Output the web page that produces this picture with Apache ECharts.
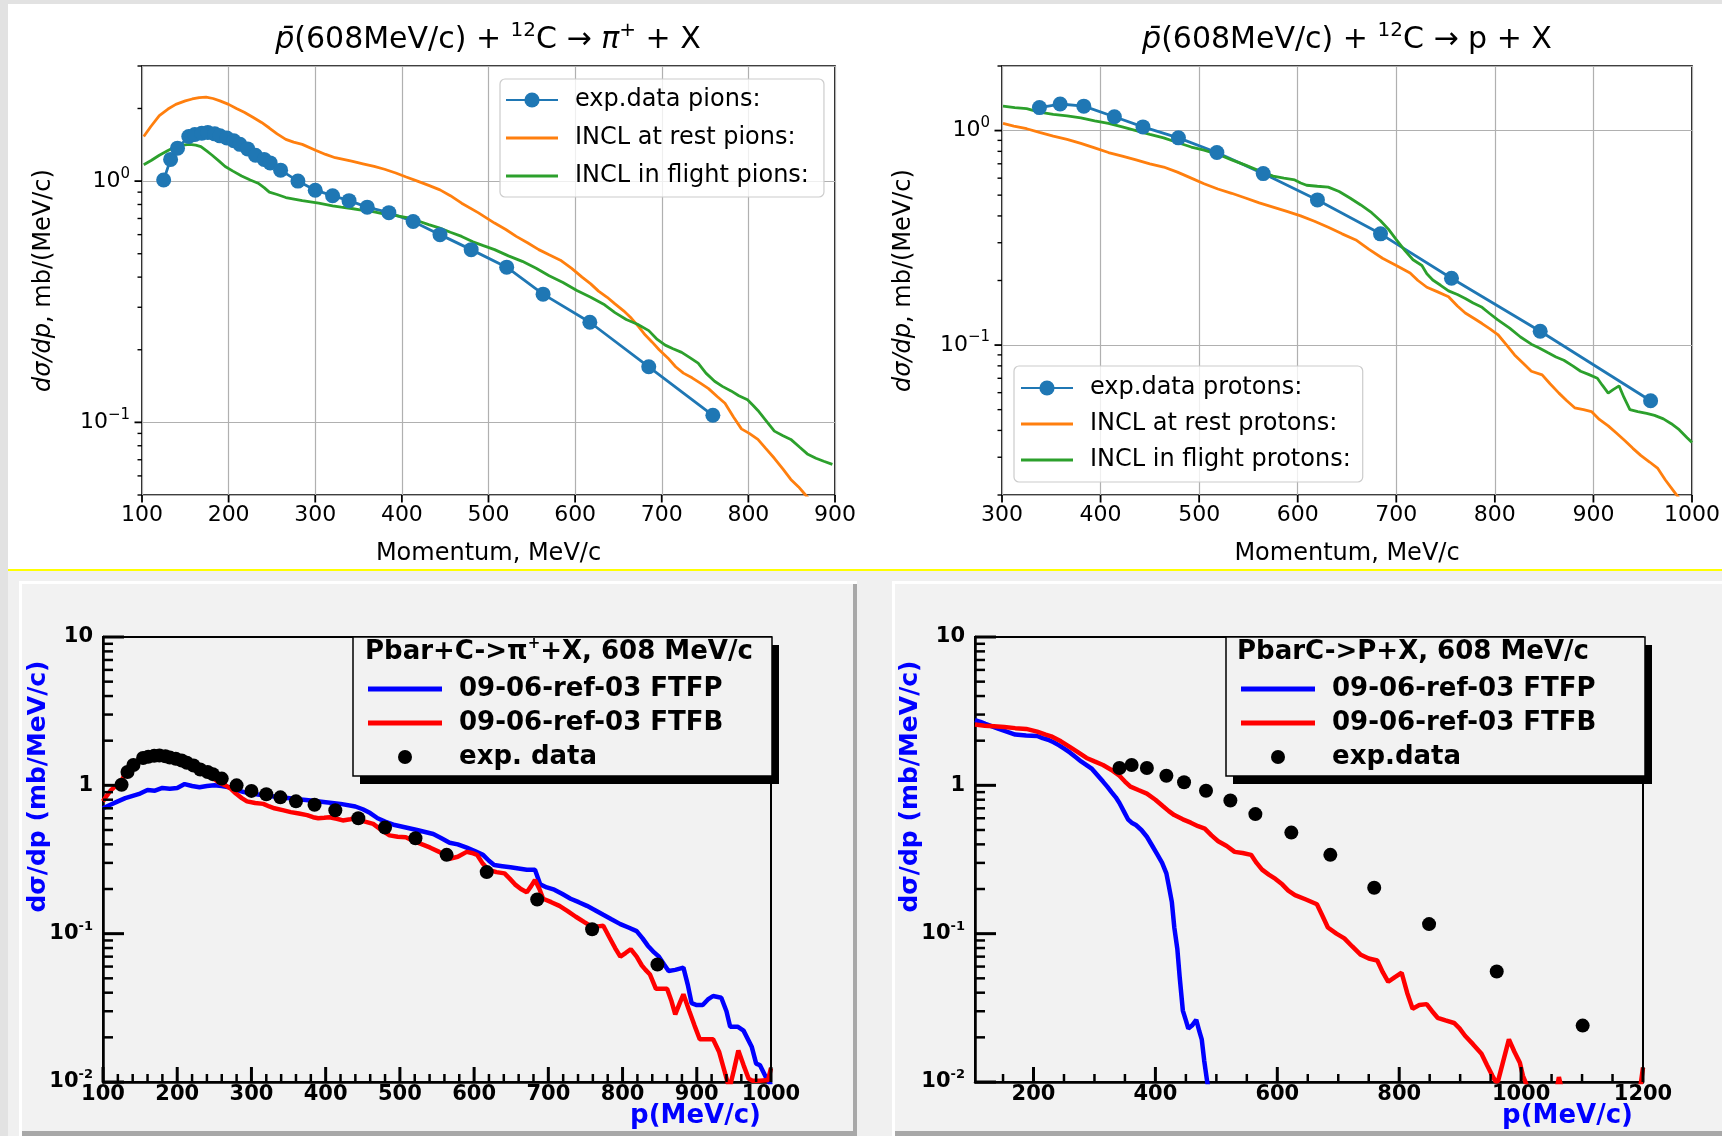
<!DOCTYPE html>
<html>
<head>
<meta charset="utf-8">
<script src="https://cdn.jsdelivr.net/npm/echarts@6/dist/echarts.min.js"></script>
<style>
  html, body { margin: 0; padding: 0; background: #ffffff; }
  #chart { width: 1722px; height: 1136px; }
</style>
</head>
<body>
<div id="chart"></div>
<script>
// ---------------- data: momentum (MeV/c), dσ/dp (mb/(MeV/c)) ----------------

// pbar + 12C -> pi+ + X  (INCL comparison)
const piExp = [[125,1.01],[133,1.23],[141,1.37],[154,1.53],[161,1.56],[169,1.58],[176,1.59],[184,1.57],[190,1.54],[198,1.51],[206,1.47],[213,1.42],[222,1.36],[231,1.28],[241,1.23],[248,1.19],[260,1.11],[280,1.00],[300,0.917],[320,0.87],[339,0.83],[360,0.78],[385,0.74],[413,0.68],[444,0.60],[480,0.52],[521,0.44],[563,0.34],[617,0.26],[685,0.17],[759,0.107]];
const piInclRest = [[102,1.53],[110,1.68],[120,1.87],[130,1.99],[139,2.08],[150,2.15],[158,2.19],[166,2.22],[174,2.23],[182,2.20],[190,2.15],[200,2.08],[209,2.00],[218,1.93],[228,1.84],[238,1.75],[247,1.66],[256,1.57],[266,1.49],[275,1.45],[285,1.42],[301,1.34],[312,1.29],[323,1.25],[342,1.21],[355,1.18],[368,1.15],[380,1.12],[393,1.08],[405,1.04],[418,1.00],[431,0.96],[444,0.92],[456,0.87],[469,0.81],[488,0.74],[507,0.67],[520,0.63],[532,0.59],[545,0.555],[558,0.52],[570,0.495],[583,0.47],[596,0.435],[608,0.40],[618,0.375],[627,0.35],[637,0.33],[646,0.31],[656,0.29],[665,0.27],[673,0.25],[681,0.23],[689,0.215],[697,0.20],[707,0.185],[716,0.17],[725,0.16],[735,0.153],[745,0.145],[754,0.138],[764,0.128],[773,0.12],[783,0.105],[792,0.094],[801,0.090],[811,0.085],[820,0.078],[830,0.071],[840,0.064],[849,0.058],[858,0.054],[866,0.050],[875,0.046]];
const piInclFlight = [[102,1.17],[111,1.22],[120,1.28],[130,1.34],[139,1.39],[147,1.41],[155,1.42],[162,1.41],[168,1.39],[175,1.33],[181,1.28],[189,1.21],[196,1.15],[205,1.10],[215,1.05],[225,1.01],[234,0.98],[241,0.94],[247,0.90],[256,0.88],[266,0.855],[285,0.83],[304,0.81],[320,0.79],[330,0.78],[342,0.77],[355,0.757],[368,0.745],[380,0.73],[393,0.72],[406,0.706],[418,0.685],[431,0.66],[443,0.64],[456,0.614],[469,0.59],[482,0.56],[494,0.54],[507,0.52],[523,0.49],[539,0.465],[555,0.435],[570,0.405],[586,0.38],[602,0.352],[618,0.33],[634,0.307],[646,0.285],[659,0.267],[672,0.255],[685,0.24],[694,0.222],[704,0.209],[713,0.202],[723,0.195],[732,0.186],[742,0.176],[751,0.16],[761,0.148],[770,0.141],[780,0.135],[789,0.129],[799,0.124],[805,0.118],[811,0.112],[821,0.101],[830,0.092],[840,0.088],[849,0.085],[859,0.079],[868,0.074],[878,0.071],[887,0.069],[897,0.067]];

// pbar + 12C -> p + X  (INCL comparison)
const prExp = [[338,1.28],[359,1.33],[383,1.30],[414,1.16],[443,1.04],[479,0.925],[518,0.79],[565,0.63],[620,0.475],[684,0.33],[756,0.205],[846,0.116],[958,0.055]];
const prInclRest = [[301,1.08],[312,1.05],[325,1.02],[338,0.98],[352,0.943],[366,0.91],[380,0.872],[394,0.83],[408,0.79],[422,0.76],[436,0.73],[450,0.70],[464,0.676],[478,0.64],[492,0.60],[505,0.565],[519,0.534],[533,0.51],[547,0.485],[561,0.46],[575,0.44],[589,0.42],[603,0.40],[617,0.378],[631,0.354],[645,0.33],[659,0.309],[672,0.28],[686,0.254],[700,0.235],[714,0.217],[722,0.20],[731,0.186],[742,0.177],[753,0.168],[762,0.152],[770,0.141],[779,0.133],[787,0.126],[795,0.119],[803,0.112],[812,0.10],[820,0.09],[829,0.082],[837,0.0755],[848,0.0726],[856,0.066],[865,0.0597],[873,0.055],[881,0.051],[890,0.05],[898,0.049],[906,0.045],[915,0.042],[923,0.039],[932,0.0358],[940,0.033],[948,0.0306],[957,0.0285],[965,0.0267],[973,0.0235],[982,0.0207],[990,0.0185]];
const prInclFlight = [[301,1.30],[313,1.28],[325,1.265],[338,1.22],[352,1.19],[366,1.17],[380,1.147],[394,1.11],[408,1.08],[422,1.04],[436,1.0],[450,0.96],[464,0.925],[478,0.88],[492,0.838],[505,0.81],[519,0.775],[533,0.73],[547,0.69],[561,0.65],[575,0.613],[586,0.60],[597,0.589],[603,0.57],[609,0.556],[620,0.55],[631,0.545],[642,0.52],[653,0.485],[664,0.45],[675,0.414],[684,0.38],[692,0.347],[700,0.31],[709,0.275],[717,0.25],[726,0.235],[731,0.215],[737,0.201],[745,0.19],[753,0.179],[762,0.172],[770,0.165],[778,0.157],[787,0.150],[795,0.14],[803,0.131],[815,0.12],[826,0.109],[837,0.101],[845,0.097],[854,0.092],[862,0.088],[870,0.085],[879,0.08],[887,0.0755],[895,0.073],[904,0.070],[909,0.065],[915,0.0597],[920,0.062],[926,0.0645],[931,0.057],[937,0.050],[945,0.049],[954,0.048],[962,0.047],[971,0.0453],[979,0.043],[987,0.0403],[995,0.037],[1000,0.0351]];

// Pbar+C -> pi+ + X, 608 MeV/c  (Geant4 FTF comparison)
const piFtfp = [[100,0.70],[110,0.74],[120,0.78],[130,0.82],[140,0.85],[150,0.88],[160,0.93],[170,0.92],[180,0.96],[190,0.95],[200,0.96],[210,1.02],[220,0.99],[230,0.97],[240,0.99],[250,1.00],[260,0.99],[270,0.97],[280,0.93],[290,0.90],[300,0.88],[320,0.85],[340,0.83],[360,0.81],[380,0.79],[400,0.77],[420,0.75],[440,0.72],[450,0.69],[460,0.65],[470,0.60],[480,0.57],[493,0.54],[508,0.52],[523,0.50],[545,0.47],[556,0.44],[567,0.41],[578,0.40],[590,0.38],[601,0.36],[612,0.34],[620,0.31],[627,0.29],[638,0.285],[649,0.28],[660,0.275],[671,0.27],[682,0.27],[689,0.215],[698,0.205],[708,0.198],[719,0.185],[730,0.172],[741,0.163],[752,0.154],[763,0.144],[774,0.134],[785,0.125],[797,0.116],[808,0.11],[819,0.104],[827,0.093],[834,0.083],[841,0.076],[849,0.070],[856,0.062],[862,0.056],[871,0.057],[882,0.059],[888,0.045],[893,0.034],[900,0.033],[908,0.033],[915,0.036],[922,0.038],[933,0.037],[940,0.030],[945,0.0236],[955,0.0236],[963,0.0222],[974,0.0173],[980,0.0133],[985,0.013],[993,0.0108],[1000,0.0095]];
const piFtfb = [[100,0.78],[105,0.85],[110,0.92],[115,0.97],[122,1.01],[130,1.2],[138,1.37],[150,1.50],[160,1.58],[170,1.60],[180,1.58],[190,1.52],[200,1.46],[210,1.40],[220,1.34],[230,1.26],[240,1.18],[250,1.10],[257,1.04],[265,1.0],[272,0.95],[279,0.88],[287,0.82],[294,0.78],[305,0.76],[316,0.75],[324,0.72],[331,0.70],[342,0.68],[353,0.66],[364,0.645],[375,0.63],[383,0.61],[390,0.60],[398,0.605],[405,0.61],[415,0.595],[423,0.58],[433,0.59],[442,0.60],[453,0.57],[464,0.55],[475,0.50],[486,0.46],[497,0.45],[508,0.447],[519,0.42],[530,0.40],[541,0.38],[553,0.356],[560,0.34],[567,0.32],[578,0.33],[590,0.356],[597,0.35],[604,0.34],[611,0.30],[619,0.27],[630,0.26],[641,0.255],[648,0.235],[655,0.215],[663,0.20],[671,0.19],[677,0.21],[682,0.23],[688,0.20],[693,0.172],[704,0.163],[715,0.154],[726,0.142],[737,0.13],[748,0.12],[760,0.11],[767,0.112],[774,0.113],[782,0.095],[790,0.08],[797,0.07],[804,0.074],[811,0.0786],[819,0.07],[826,0.061],[831,0.057],[837,0.053],[845,0.0425],[852,0.0425],[860,0.0425],[866,0.035],[871,0.0286],[877,0.034],[882,0.039],[890,0.03],[897,0.024],[904,0.0194],[913,0.0194],[922,0.0194],[930,0.016],[937,0.012],[944,0.009],[950,0.012],[956,0.0163],[963,0.013],[970,0.0105],[975,0.0102],[985,0.0102],[996,0.0103],[1000,0.0124]];
const piExpData = [[125,1.01],[133,1.23],[141,1.37],[154,1.53],[161,1.56],[169,1.58],[176,1.59],[184,1.57],[190,1.54],[198,1.51],[206,1.47],[213,1.42],[222,1.36],[231,1.28],[241,1.23],[248,1.19],[260,1.11],[280,1.00],[300,0.917],[320,0.87],[339,0.83],[360,0.78],[385,0.74],[413,0.68],[444,0.60],[480,0.52],[521,0.44],[563,0.34],[617,0.26],[685,0.17],[759,0.107],[847,0.062]];

// PbarC -> P + X, 608 MeV/c  (Geant4 FTF comparison)
const prFtfp = [[104,2.75],[113,2.68],[121,2.6],[132,2.5],[143,2.4],[156,2.3],[170,2.2],[188,2.17],[206,2.15],[215,2.08],[224,2.03],[233,1.95],[242,1.86],[251,1.76],[260,1.66],[269,1.55],[278,1.45],[287,1.37],[296,1.29],[305,1.17],[314,1.06],[321,0.98],[328,0.90],[335,0.83],[341,0.76],[348,0.67],[355,0.59],[361,0.56],[368,0.54],[377,0.50],[386,0.45],[395,0.39],[404,0.337],[411,0.30],[418,0.255],[422,0.21],[427,0.163],[431,0.11],[436,0.0786],[440,0.05],[445,0.0303],[450,0.026],[454,0.0229],[460,0.024],[467,0.0263],[472,0.022],[476,0.0194],[480,0.014],[485,0.01],[490,0.008]];
const prFtfb = [[104,2.57],[120,2.52],[135,2.5],[152,2.47],[170,2.43],[188,2.40],[206,2.30],[220,2.2],[229,2.14],[245,1.98],[260,1.81],[274,1.66],[287,1.53],[300,1.45],[314,1.37],[328,1.27],[341,1.16],[350,1.06],[359,0.98],[372,0.93],[386,0.88],[400,0.80],[413,0.72],[422,0.67],[431,0.63],[445,0.59],[458,0.56],[470,0.53],[481,0.51],[492,0.46],[503,0.42],[517,0.39],[530,0.356],[543,0.35],[557,0.34],[566,0.30],[575,0.27],[586,0.25],[597,0.234],[608,0.215],[618,0.195],[629,0.182],[647,0.17],[665,0.158],[674,0.132],[683,0.11],[697,0.10],[710,0.093],[723,0.082],[737,0.072],[750,0.068],[764,0.066],[773,0.055],[782,0.0474],[793,0.051],[804,0.0545],[813,0.04],[822,0.0312],[833,0.033],[845,0.0335],[854,0.030],[863,0.0271],[876,0.026],[890,0.025],[899,0.023],[908,0.0205],[921,0.018],[935,0.0155],[944,0.013],[953,0.011],[958,0.0101],[962,0.0101],[971,0.014],[980,0.0194],[989,0.016],[998,0.0135],[1003,0.011],[1008,0.0098],[1015,0.008],[1055,0.008],[1059,0.0092],[1062,0.0108],[1066,0.0092],[1070,0.008],[1190,0.008],[1196,0.0095],[1200,0.0125]];
const prExpData = [[341,1.31],[361,1.37],[386,1.31],[418,1.16],[447,1.05],[483,0.92],[523,0.79],[564,0.64],[623,0.48],[687,0.34],[759,0.204],[849,0.116],[960,0.0556],[1101,0.024]];

// axis ranges and tick positions
const tlXTicks = [100, 200, 300, 400, 500, 600, 700, 800, 900];
const trXTicks = [300, 400, 500, 600, 700, 800, 900, 1000];
const tlYTicks = [0.1, 1];
const trYTicks = [0.1, 1];
const blXTicks = [100, 200, 300, 400, 500, 600, 700, 800, 900, 1000];
const blXMinor = [120, 140, 160, 180, 220, 240, 260, 280, 320, 340, 360, 380, 420, 440, 460, 480, 520, 540, 560, 580, 620, 640, 660, 680, 720, 740, 760, 780, 820, 840, 860, 880, 920, 940, 960, 980];
const brXTicks = [200, 400, 600, 800, 1000, 1200];
const brXMinor = [150, 250, 300, 350, 450, 500, 550, 650, 700, 750, 850, 900, 950, 1050, 1100, 1150];
const rootYTicks = [0.01, 0.1, 1, 10];

// ---------------- styling helpers ----------------
const F = 'DejaVu Sans';
const MPL_BLUE = '#1f77b4', MPL_ORANGE = '#ff7f0e', MPL_GREEN = '#2ca02c';

// minor decade ticks 2..9 x 10^k inside [min, max]
function logMinor(min, max) {
  const out = [];
  for (let e = -3; e <= 2; e++) {
    for (let m = 2; m <= 9; m++) {
      const v = +(m * Math.pow(10, e)).toPrecision(3);
      if (v >= min * 0.999 && v <= max * 1.001) out.push(v);
    }
  }
  return out;
}

function mplPow(v) {
  const e = Math.round(Math.log10(v));
  return '{b|10}{s|' + (e < 0 ? '\u2212' + (-e) : String(e)) + '}';
}
function rootPow(v) {
  if (v >= 1) return String(Math.round(v));
  const e = Math.round(Math.log10(v));
  return '{b|10}{s|' + e + '}';
}
const plain = v => String(v);

function mplX(grid, min, max) {
  return {
    type: 'value', gridIndex: grid, min: min, max: max, interval: 100, position: 'bottom',
    axisLine: { show: false },
    axisTick: { show: false },
    axisLabel: { color: '#000', fontFamily: F, fontSize: 22, margin: 9, formatter: plain, showMinLabel: true, showMaxLabel: true },
    splitLine: { show: true, lineStyle: { color: '#b0b0b0', width: 1.2 } },
    name: 'Momentum, MeV/c', nameLocation: 'middle', nameGap: 47, nameMoveOverlap: false,
    nameTextStyle: { color: '#000', fontFamily: F, fontSize: 24 }
  };
}

function mplY(grid, min, max, majors) {
  return {
    type: 'log', logBase: 10, gridIndex: grid, min: min, max: max, position: 'left',
    axisLine: { show: false },
    axisTick: { show: false },
    axisLabel: {
      customValues: majors, margin: 12, color: '#000', fontFamily: F, fontSize: 22, formatter: mplPow,
      rich: {
        b: { fontFamily: F, fontSize: 22, color: '#000', lineHeight: 30 },
        s: { fontFamily: F, fontSize: 15, color: '#000', verticalAlign: 'top', lineHeight: 15 }
      }
    },
    splitLine: { show: true, lineStyle: { color: '#b0b0b0', width: 1.2 } },
    name: '{i|d\u03c3/dp}, mb/(MeV/c)', nameLocation: 'middle', nameGap: 86, nameMoveOverlap: false,
    nameTextStyle: {
      color: '#000', fontFamily: F, fontSize: 24,
      rich: { i: { fontFamily: F, fontSize: 24, fontStyle: 'italic', color: '#000' } }
    }
  };
}

function rootX(grid, min, max, labels) {
  return {
    type: 'value', gridIndex: grid, min: min, max: max, position: 'bottom',
    axisLine: { show: true, lineStyle: { color: '#000', width: 2.5 } },
    axisTick: { show: false },
    axisLabel: { customValues: labels, color: '#000', fontFamily: F, fontWeight: 'bold', fontSize: 21, margin: 2, formatter: plain },
    splitLine: { show: false },
    name: 'p(MeV/c)', nameLocation: 'end', nameGap: -10, nameMoveOverlap: false,
    nameTextStyle: { color: '#0000ff', fontFamily: F, fontWeight: 'bold', fontSize: 26, align: 'right', verticalAlign: 'top', padding: [21, 0, 0, 0] }
  };
}
function rootY(grid) {
  return {
    type: 'log', logBase: 10, gridIndex: grid, min: 0.01, max: 10, position: 'left',
    axisLine: { show: true, lineStyle: { color: '#000', width: 2.5 } },
    axisTick: { show: false },
    axisLabel: {
      customValues: rootYTicks, margin: 10, color: '#000', fontFamily: F, fontWeight: 'bold', fontSize: 21, formatter: rootPow,
      rich: {
        b: { fontFamily: F, fontWeight: 'bold', fontSize: 21, color: '#000', lineHeight: 28 },
        s: { fontFamily: F, fontWeight: 'bold', fontSize: 13, color: '#000', verticalAlign: 'top', lineHeight: 13 }
      }
    },
    splitLine: { show: false },
    name: 'd\u03c3/dp (mb/MeV/c)', nameLocation: 'middle', nameGap: 52, nameMoveOverlap: false,
    nameTextStyle: { color: '#0000ff', fontFamily: F, fontWeight: 'bold', fontSize: 25, padding: [0, 0, 0, 146] }
  };
}

// tick marks drawn on the frame edge through the axis scales
// dir: 'x' ticks on the bottom edge, 'y' ticks on the left edge; inward points into the plot
function ticks(xi, yi, dir, values, anchor, len, width, inward) {
  const data = values.map(v => dir === 'x' ? [v, anchor] : [anchor, v]);
  return {
    type: 'custom', xAxisIndex: xi, yAxisIndex: yi, data: data, clip: false, silent: true, z: 10,
    renderItem: function (params, api) {
      const cs = params.coordSys;
      const p = api.coord([api.value(0), api.value(1)]);
      const s = inward ? 1 : -1;
      if (dir === 'x') {
        const y0 = cs.y + cs.height;
        return { type: 'line', shape: { x1: p[0], y1: y0, x2: p[0], y2: y0 - s * len }, style: { stroke: '#000', lineWidth: width } };
      }
      const x0 = cs.x;
      return { type: 'line', shape: { x1: x0, y1: p[1], x2: x0 + s * len, y2: p[1] }, style: { stroke: '#000', lineWidth: width } };
    }
  };
}

function mplLine(name, data, color, x, y) {
  return { type: 'line', name: name, data: data, xAxisIndex: x, yAxisIndex: y, symbol: 'none',
           lineStyle: { color: color, width: 2.8 }, itemStyle: { color: color }, clip: true, z: 3 };
}
function mplExp(name, data, x, y) {
  return { type: 'line', name: name, data: data, xAxisIndex: x, yAxisIndex: y, symbol: 'circle', symbolSize: 15,
           lineStyle: { color: MPL_BLUE, width: 2.8 }, itemStyle: { color: MPL_BLUE, opacity: 1 }, clip: true, z: 3 };
}
function rootLine(name, data, color, x, y) {
  return { type: 'line', name: name, data: data, xAxisIndex: x, yAxisIndex: y, symbol: 'none',
           lineStyle: { color: color, width: 4.5 }, itemStyle: { color: color }, clip: true, z: 3 };
}
function rootExp(name, data, x, y) {
  return { type: 'scatter', name: name, data: data, xAxisIndex: x, yAxisIndex: y, symbol: 'circle', symbolSize: 14,
           itemStyle: { color: '#000', opacity: 1 }, clip: true, z: 3 };
}

const lineIcon = (w, h) => 'path://M0,0H' + w + 'V' + h + 'H0Z';

function mplLegend(left, top, names, pad, gap) {
  return {
    left: left, top: top, orient: 'vertical', padding: pad, itemWidth: 52, itemHeight: 19, itemGap: gap,
    backgroundColor: 'rgba(255,255,255,0.8)', borderColor: '#cccccc', borderWidth: 1.2, borderRadius: 5,
    selectedMode: false,
    textStyle: { fontFamily: F, fontSize: 24, color: '#000', lineHeight: 28, padding: [0, 0, 0, 12] },
    data: [ { name: names[0] },
            { name: names[1], icon: lineIcon(52, 3) },
            { name: names[2], icon: lineIcon(52, 3) } ]
  };
}
function rootLegend(left, top, names) {
  return {
    left: left, top: top, orient: 'vertical', padding: 0, itemWidth: 74, itemHeight: 14, itemGap: 4,
    selectedMode: false, z: 12,
    textStyle: { fontFamily: F, fontWeight: 'bold', fontSize: 26, color: '#000', lineHeight: 30, padding: [0, 0, 0, 12] },
    data: [ { name: names[0], icon: lineIcon(74, 5) },
            { name: names[1], icon: lineIcon(74, 5) },
            { name: names[2] } ]
  };
}

// ---------------- page furniture (panel backgrounds, ROOT legend boxes) ----------------
const rect = (x, y, w, h, fill, z, extra) => Object.assign({ type: 'rect', shape: { x: x, y: y, width: w, height: h }, style: { fill: fill }, z: z, silent: true }, extra || {});

const furniture = [
  rect(0, 0, 1722, 1136, '#e2e2e2', -20),
  rect(8, 4, 1714, 565, '#ffffff', -19),
  rect(8, 569, 1714, 2, '#ffff00', -19),
  rect(8, 571, 1714, 565, '#f0f0f0', -19),
  // lower-left canvas with bevelled edge
  rect(19, 581, 838, 555, '#ffffff', -18),
  rect(22, 584, 835, 552, '#a8a8a8', -17),
  rect(22, 584, 831, 547, '#f2f2f2', -16),
  // lower-right canvas
  rect(892, 581, 830, 555, '#ffffff', -18),
  rect(895, 584, 827, 552, '#a8a8a8', -17),
  rect(895, 584, 827, 547, '#f2f2f2', -16),
  // legend boxes with drop shadow
  rect(360, 645, 419, 139, '#000000', 10),
  rect(353, 637, 419, 139, '#f2f2f2', 11, { style: { fill: '#f2f2f2', stroke: '#000', lineWidth: 1.5 } }),
  rect(1233, 645, 419, 139, '#000000', 10),
  rect(1226, 637, 419, 139, '#f2f2f2', 11, { style: { fill: '#f2f2f2', stroke: '#000', lineWidth: 1.5 } }),
  { type: 'text', x: 365, y: 652, z: 13, silent: true,
    style: { text: 'Pbar+C->\u03c0{s|+}+X, 608 MeV/c', fill: '#000', fontFamily: F, fontWeight: 'bold', fontSize: 26,
             lineHeight: 30, verticalAlign: 'middle',
             rich: { s: { fontFamily: F, fontWeight: 'bold', fontSize: 15, verticalAlign: 'top', lineHeight: 15, fill: '#000' } } } },
  { type: 'text', x: 1237, y: 652, z: 13, silent: true,
    style: { text: 'PbarC->P+X, 608 MeV/c', fill: '#000', fontFamily: F, fontWeight: 'bold', fontSize: 26,
             lineHeight: 30, verticalAlign: 'middle' } }
];

const titleRich = {
  i: { fontFamily: F, fontSize: 30, fontStyle: 'italic', color: '#000', lineHeight: 38 },
  s: { fontFamily: F, fontSize: 20, color: '#000', verticalAlign: 'top', lineHeight: 20 }
};

const option = {
  animation: false,
  backgroundColor: 'transparent',
  textStyle: { fontFamily: F },
  graphic: { elements: furniture },
  title: [
    { text: '{i|p\u0304}(608MeV/c) + {s|12}C \u2192 {i|\u03c0}{s|+} + X', left: 488, top: 40, padding: 0,
      textAlign: 'center', textVerticalAlign: 'middle',
      textStyle: { fontFamily: F, fontSize: 30, fontWeight: 'normal', color: '#000', lineHeight: 38, rich: titleRich } },
    { text: '{i|p\u0304}(608MeV/c) + {s|12}C \u2192 p + X', left: 1347, top: 40, padding: 0,
      textAlign: 'center', textVerticalAlign: 'middle',
      textStyle: { fontFamily: F, fontSize: 30, fontWeight: 'normal', color: '#000', lineHeight: 38, rich: titleRich } }
  ],
  grid: [
    { left: 142, top: 66, width: 693, height: 429, show: true, borderColor: '#000', borderWidth: 1.7, backgroundColor: 'transparent', outerBoundsMode: 'none', containLabel: false },
    { left: 1002, top: 66, width: 690, height: 429, show: true, borderColor: '#000', borderWidth: 1.7, backgroundColor: 'transparent', outerBoundsMode: 'none', containLabel: false },
    { left: 103, top: 637, width: 668, height: 445, show: true, borderColor: '#000', borderWidth: 2, backgroundColor: 'transparent', outerBoundsMode: 'none', containLabel: false },
    { left: 975, top: 637, width: 668, height: 445, show: true, borderColor: '#000', borderWidth: 2, backgroundColor: 'transparent', outerBoundsMode: 'none', containLabel: false }
  ],
  xAxis: [
    mplX(0, 100, 900),
    mplX(1, 300, 1000),
    rootX(2, 100, 1000, blXTicks),
    rootX(3, 104, 1200, brXTicks)
  ],
  yAxis: [
    mplY(0, 0.05, 3, tlYTicks),
    mplY(1, 0.02, 2, trYTicks),
    rootY(2),
    rootY(3)
  ],
  legend: [
    mplLegend(500, 79, ['exp.data pions:', 'INCL at rest pions:', 'INCL in flight pions:'], [7, 15, 7, 5], 10),
    mplLegend(1014, 366, ['exp.data protons:', 'INCL at rest protons:', 'INCL in flight protons:'], [8, 12, 8, 6], 8),
    rootLegend(368, 674, ['09-06-ref-03 FTFP', '09-06-ref-03 FTFB', 'exp. data']),
    rootLegend(1241, 674, ['09-06-ref-03 FTFP', '09-06-ref-03 FTFB', 'exp.data'])
  ],
  series: [
    // upper left
    mplExp('exp.data pions:', piExp, 0, 0),
    mplLine('INCL at rest pions:', piInclRest, MPL_ORANGE, 0, 0),
    mplLine('INCL in flight pions:', piInclFlight, MPL_GREEN, 0, 0),
    ticks(0, 0, 'x', tlXTicks, 0.05, 7.5, 1.8, false),
    ticks(0, 0, 'y', tlYTicks, 100, 7.5, 1.8, false),
    ticks(0, 0, 'y', logMinor(0.05, 3), 100, 4.5, 1.4, false),

    // upper right
    mplExp('exp.data protons:', prExp, 1, 1),
    mplLine('INCL at rest protons:', prInclRest, MPL_ORANGE, 1, 1),
    mplLine('INCL in flight protons:', prInclFlight, MPL_GREEN, 1, 1),
    ticks(1, 1, 'x', trXTicks, 0.02, 7.5, 1.8, false),
    ticks(1, 1, 'y', trYTicks, 300, 7.5, 1.8, false),
    ticks(1, 1, 'y', logMinor(0.02, 2), 300, 4.5, 1.4, false),

    // lower left
    rootLine('09-06-ref-03 FTFP', piFtfp, '#0000ff', 2, 2),
    rootLine('09-06-ref-03 FTFB', piFtfb, '#ff0000', 2, 2),
    rootExp('exp. data', piExpData, 2, 2),
    ticks(2, 2, 'x', blXTicks, 0.01, 15, 3, true),
    ticks(2, 2, 'x', blXMinor, 0.01, 8, 2.5, true),
    ticks(2, 2, 'y', rootYTicks, 100, 21, 3, true),
    ticks(2, 2, 'y', logMinor(0.01, 10), 100, 10, 2.5, true),

    // lower right
    rootLine('09-06-ref-03 FTFP', prFtfp, '#0000ff', 3, 3),
    rootLine('09-06-ref-03 FTFB', prFtfb, '#ff0000', 3, 3),
    rootExp('exp.data', prExpData, 3, 3),
    ticks(3, 3, 'x', brXTicks, 0.01, 15, 3, true),
    ticks(3, 3, 'x', brXMinor, 0.01, 8, 2.5, true),
    ticks(3, 3, 'y', rootYTicks, 104, 21, 3, true),
    ticks(3, 3, 'y', logMinor(0.01, 10), 104, 10, 2.5, true)
  ]
};

const chart = echarts.init(document.getElementById('chart'), null, { renderer: 'canvas' });
chart.setOption(option);
</script>
</body>
</html>
